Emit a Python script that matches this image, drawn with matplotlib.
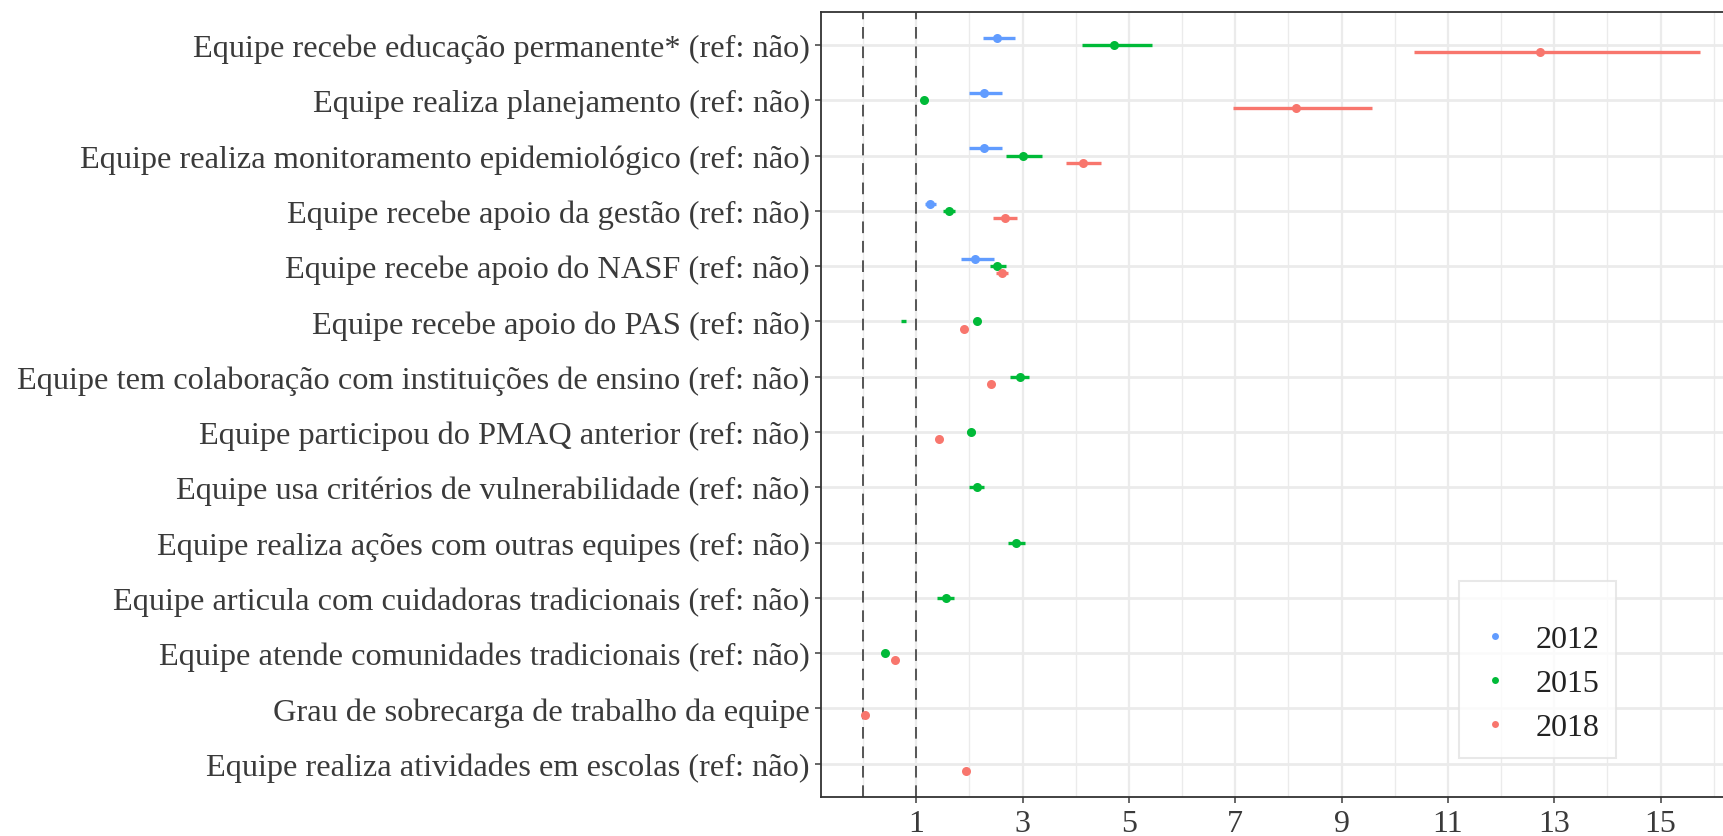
import numpy as np
import matplotlib.pyplot as plt
from matplotlib.lines import Line2D

plt.rcParams['font.family'] = ['Liberation Serif', 'DejaVu Serif']

categories = [
    'Equipe recebe educação permanente* (ref: não)',
    'Equipe realiza planejamento (ref: não)',
    'Equipe realiza monitoramento epidemiológico (ref: não)',
    'Equipe recebe apoio da gestão (ref: não)',
    'Equipe recebe apoio do NASF (ref: não)',
    'Equipe recebe apoio do PAS (ref: não)',
    'Equipe tem colaboração com instituições de ensino (ref: não)',
    'Equipe participou do PMAQ anterior (ref: não)',
    'Equipe usa critérios de vulnerabilidade (ref: não)',
    'Equipe realiza ações com outras equipes (ref: não)',
    'Equipe articula com cuidadoras tradicionais (ref: não)',
    'Equipe atende comunidades tradicionais (ref: não)',
    'Grau de sobrecarga de trabalho da equipe',
    'Equipe realiza atividades em escolas (ref: não)',
]
nan = np.nan

or_2012 = [2.52, 2.27, 2.27, 1.26, 2.11, nan, nan, nan, nan, nan, nan, nan, nan, nan]
lo_2012 = [2.26, 1.99, 1.99, 1.16, 1.84, nan, nan, nan, nan, nan, nan, nan, nan, nan]
hi_2012 = [2.85, 2.61, 2.61, 1.38, 2.46, nan, nan, nan, nan, nan, nan, nan, nan, nan]

or_2015 = [4.72, 1.14, 3.01, 1.61, 2.52, 2.14, 2.95, 2.03, 2.14, 2.87, 1.56, 0.42, nan, nan]
lo_2015 = [4.12, 1.10, 2.68, 1.51, 2.39, 2.08, 2.77, 1.95, 2.00, 2.72, 1.40, 0.40, nan, nan]
hi_2015 = [5.43, 1.19, 3.37, 1.73, 2.69, 2.20, 3.12, 2.11, 2.28, 3.04, 1.71, 0.44, nan, nan]

or_2018 = [12.74, 8.15, 4.13, 2.67, 2.61, 1.90, 2.41, 1.43, nan, nan, nan, 0.60, 0.03, 1.94]
lo_2018 = [10.36, 6.95, 3.81, 2.45, 2.50, 1.86, 2.36, 1.40, nan, nan, nan, 0.58, 0.02, 1.88]
hi_2018 = [15.74, 9.58, 4.47, 2.90, 2.72, 1.94, 2.46, 1.47, nan, nan, nan, 0.62, 0.04, 2.00]

# stray 2015 interval without point (row "apoio do PAS")
extra_row = 5
extra_lo, extra_hi = 0.72, 0.80

years = ['2012', '2015', '2018']
colors = ['#619CFF', '#00BA38', '#F8766D']
series = [(or_2012, lo_2012, hi_2012), (or_2015, lo_2015, hi_2015), (or_2018, lo_2018, hi_2018)]
offsets = [-0.13, 0.0, 0.13]

fig = plt.figure(figsize=(17.24, 8.37), dpi=100)
ax = fig.add_axes([821 / 1724, 1 - 797.7 / 837, (1742 - 821) / 1724, (797.7 - 13) / 837])

y = np.arange(1, len(categories) + 1)

# grid
for xv in range(0, 17):
    ax.axvline(xv, color='#EBEBEB', lw=1.6 if xv % 2 == 1 else 1.0, zorder=0)
for yv in y:
    ax.axhline(yv, color='#EBEBEB', lw=2.0, zorder=0)

ax.axvline(0, color='#555555', lw=1.4, ls=(0, (6, 4)), zorder=1)
ax.axvline(1, color='#555555', lw=1.4, ls=(0, (6, 4)), zorder=1)

for (vals, lo, hi), col, off in zip(series, colors, offsets):
    vals = np.array(vals); lo = np.array(lo); hi = np.array(hi)
    yy = y + off
    ax.hlines(yy, lo, hi, color=col, lw=2.4, zorder=3)
    ax.plot(vals, yy, 'o', color=col, ms=6.5, mec='none', zorder=4)

ax.hlines(y[extra_row], extra_lo, extra_hi, color=colors[1], lw=2.4, zorder=3)

ax.set_xlim(-0.79, 16.53)
ax.set_ylim(len(categories) + 0.6, 0.4)
ax.set_xticks([1, 3, 5, 7, 9, 11, 13, 15])
ax.set_yticks(y)
ax.set_yticklabels(categories)
ax.tick_params(axis='both', colors='#4D4D4D', length=4, width=1.2, labelcolor='#3A3A3A')
ax.tick_params(axis='y', pad=4, labelsize=23.3)
ax.tick_params(axis='x', pad=5, labelsize=23)
for s in ['left', 'bottom', 'top']:
    ax.spines[s].set_color('#333333')
    ax.spines[s].set_linewidth(1.3)
ax.spines['right'].set_visible(False)

handles = [Line2D([], [], marker='o', ls='none', color=c, ms=5, mec='none') for c in colors]
leg = fig.legend(handles, years, loc='lower left', bbox_to_anchor=(1459 / 1724, 1 - 759 / 837),
                 bbox_transform=fig.transFigure, fontsize=23, frameon=True, fancybox=False,
                 borderpad=0.5, labelspacing=0.46, handletextpad=0.65, handlelength=1.25,
                 borderaxespad=0, title=' ', title_fontsize=10)
leg.get_frame().set_edgecolor('#E3E3E3')
leg.get_frame().set_linewidth(1.5)
for t in leg.get_texts():
    t.set_color('#222222')

fig.savefig('out.png', dpi=100)
